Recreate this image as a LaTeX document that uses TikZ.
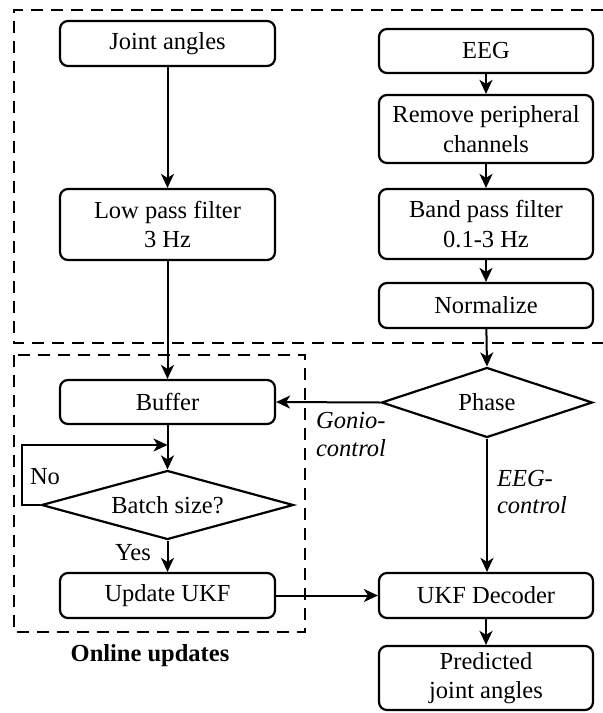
\documentclass[tikz,border=0pt]{standalone}
\usepackage{fontspec}
\setmainfont{Liberation Serif}
\usetikzlibrary{arrows.meta,shapes.geometric}
\begin{document}
\begin{tikzpicture}[x=1pt,y=-1pt,
  font=\fontsize{24.5}{29.5}\selectfont,
  box/.style={draw, line width=2.2pt, rounded corners=8pt, align=center,
              minimum width=215pt, inner sep=0pt},
  decision/.style={draw, line width=2.2pt, diamond, aspect=3, inner sep=0pt},
  arrow/.style={line width=2pt, -{Stealth[length=14pt,width=13pt,inset=4pt]}},
  group/.style={line width=2.4pt, dash pattern=on 12pt off 8pt},
  lbl/.style={font=\fontsize{24.5}{28}\selectfont\itshape, align=left, inner sep=0pt}]
\useasboundingbox (0,0) rectangle (603,713);

% Dashed groups
\draw[group] (603,10) -- (14,10) -- (14,343) -- (603,343);
\draw[group] (14,355) rectangle (305,632);

% Joint angle branch
\node[box, minimum height=45pt] (joint) at (167.5,43.5) {Joint angles};
\node[box, minimum height=71pt] (lowpass) at (167.5,224.5) {Low pass filter\\3 Hz};

% EEG branch
\node[box, minimum width=214pt, minimum height=44pt] (eeg) at (486,51) {EEG};
\node[box, minimum width=214pt, minimum height=68pt] (remove) at (486,129) {Remove peripheral\\channels};
\node[box, minimum width=214pt, minimum height=70pt] (bandpass) at (486,224) {Band pass filter\\0.1-3 Hz};
\node[box, minimum width=214pt, minimum height=45pt] (normalize) at (486,305.5) {Normalize};

% Phase switch and decoder
\node[decision, minimum width=211pt, minimum height=70pt] (phase) at (487,402.5) {Phase};
\node[box, minimum width=214pt, minimum height=45pt] (decoder) at (486,595.5) {UKF Decoder};
\node[box, minimum width=214pt, minimum height=64pt] (predicted) at (486,678) {Predicted\\joint angles};

% Online updates
\node[box, minimum height=44pt] (buffer) at (167.5,402) {Buffer};
\node[decision, minimum width=252pt, minimum height=69pt] (batch) at (167.5,505) {Batch size?};
\node[box, minimum height=45pt] (update) at (167.5,595.5) {Update UKF};
\coordinate (merge) at (167.5,445);

% Connectors
\draw[arrow] (joint) -- (lowpass);
\draw[arrow] (eeg) -- (remove);
\draw[arrow] (remove) -- (bandpass);
\draw[arrow] (bandpass) -- (normalize);
\draw[arrow] (normalize) -- (phase.north);
\draw[arrow] (lowpass) -- (buffer);
\draw[arrow] (phase.west) -- (buffer.east);
\draw[arrow] (phase.south) -- (decoder.north -| phase.south);
\draw[arrow] (buffer) -- (batch.north);
\draw[arrow] (batch.west) -- ++(-18,0) |- (merge);
\draw[arrow] (batch.south) -- (update);
\draw[arrow] (update) -- (decoder);
\draw[arrow] (decoder) -- (predicted);

% Labels
\node[lbl] (gonio) at (351,435) {Gonio-\\control};
\node[lbl] (eegctrl) at (532,492) {EEG-\\control};
\node[inner sep=0pt] (no) at (45,477) {No};
\node[inner sep=0pt] (yes) at (133,553) {Yes};
\node[font=\fontsize{24.5}{29}\selectfont\bfseries] (online) at (150,656) {Online updates};

\end{tikzpicture}
\end{document}
